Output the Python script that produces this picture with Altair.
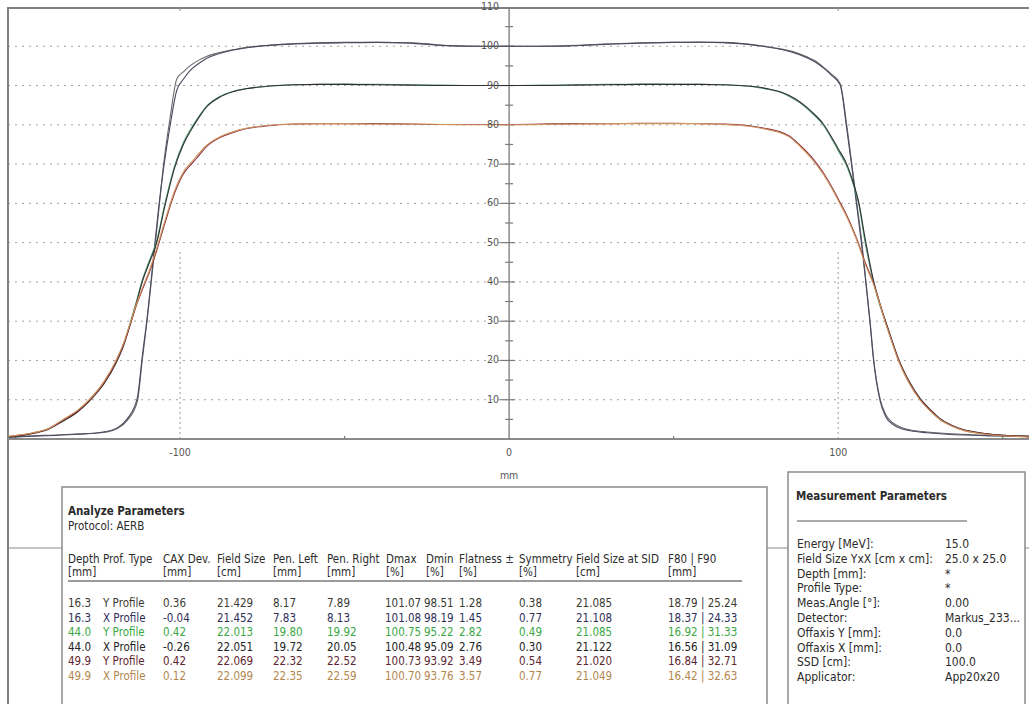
import altair as alt
import pandas as pd

# ---------------- profile data ----------------
SERIES = ["16.3 Y Profile", "16.3 X Profile", "44.0 Y Profile",
          "44.0 X Profile", "49.9 Y Profile", "49.9 X Profile"]

X_16 = [-152, -145, -138, -131, -124, -119, -116, -113, -111.5, -110, -108, -106.5,
        -105, -103, -101, -99, -97, -94, -92, -89, -86, -82, -78, -72, -65, -58, -50,
        -40, -30, -22, -15, -8, 0, 8, 15, 22, 30, 40, 50, 58, 65, 71, 76, 82, 86, 90.5,
        93, 95.5, 98, 100.6, 102.6, 104.2, 105.7, 107.2, 108.2, 109.7, 110.7, 112.8,
        114.5, 116.8, 119, 122, 127, 133, 138, 143, 150, 158]
P16_Y = [0.4, 0.8, 1.0, 1.3, 1.6, 2.7, 4.8, 9.5, 20, 30.3, 46, 58,
         70, 82, 91.7, 93.5, 95, 96.6, 97.4, 98.2, 98.8, 99.4, 99.9, 100.3, 100.7, 100.9, 101.0,
         101.0, 100.9, 100.4, 100.0, 100.0, 100.0, 100.0, 100.1, 100.3, 100.6, 100.9, 101.0, 101.0, 101.0, 100.7, 100.2, 99.4, 98.7, 97.3,
         96.3, 94.7, 92.9, 90.5, 80, 69.7, 59.8, 50, 42, 30, 21, 10,
         6.2, 4, 3, 2.3, 1.8, 1.4, 1.2, 1.0, 0.9, 0.8]
P16_X = [0.5, 0.7, 0.9, 1.2, 1.7, 2.9, 5.2, 10.5, 21, 31, 47, 59,
         69, 80, 88.8, 91.6, 93.8, 95.8, 96.9, 97.9, 98.6, 99.3, 99.8, 100.3, 100.6, 100.8, 100.9,
         101.0, 100.8, 100.3, 100.1, 100.0, 100.0, 100.0, 100.0, 100.2, 100.5, 100.8, 101.0, 101.1, 100.9, 100.6, 100.1, 99.3, 98.5, 97.1,
         96.0, 94.5, 92.6, 90.2, 79, 69, 59, 49, 41.5, 29.5, 20.5, 9.5,
         5.6, 3.6, 2.7, 2.1, 1.6, 1.2, 1.0, 0.9, 0.7, 0.6]

X_DEEP = [-152, -146, -140, -135.5, -131, -127.4, -123, -119.3, -117, -115.2, -113.3,
          -111.5, -109.3, -107.1, -104.6, -101.5, -99, -96, -94, -91.9, -88, -84, -80,
          -75, -70, -65, -58, -50, -40, -30, -20, -10, 0, 10, 20, 30, 40, 50, 58, 65, 70,
          75, 79, 82.4, 85, 88.4, 92, 95.5, 98.6, 100.1, 102.6, 104.7, 106.2, 108.2,
          110.7, 112.5, 114.3, 116.3, 118.3, 121.5, 125, 128, 131, 134.5, 138, 143,
          148.2, 153, 158]
P44_Y = [0.6, 1.3, 2.6, 4.8, 7.2, 10, 14.5, 20, 24.5, 29.5, 35,
         40.5, 45.5, 50.5, 60, 70, 75.5, 80, 82.5, 84.8, 87.2, 88.5, 89.2,
         89.7, 90.0, 90.2, 90.3, 90.4, 90.3, 90.2, 90.1, 90.0, 90.0, 90.1, 90.2, 90.3, 90.4, 90.3, 90.3, 90.2, 90.0,
         89.6, 89.0, 88.3, 87.3, 85.6, 83.0, 79.9, 75.6, 73.3, 69.5, 64.5, 60, 50,
         40, 34.5, 30, 25, 20.2, 14.5, 10, 7.3, 5, 3.4, 2.3, 1.5,
         1.0, 0.8, 0.6]
P44_X = [0.5, 1.2, 2.5, 4.6, 7.0, 9.8, 14.2, 19.6, 24.2, 29, 34.5,
         40, 45, 50, 59.4, 69.5, 75, 79.6, 82.2, 84.6, 87, 88.4, 89.2,
         89.7, 90.0, 90.2, 90.3, 90.3, 90.2, 90.1, 90.0, 90.0, 90.0, 90.0, 90.1, 90.2, 90.3, 90.3, 90.3, 90.2, 90.0,
         89.7, 89.1, 88.4, 87.5, 85.8, 83.3, 80.2, 76, 73.8, 70, 65, 60.5, 51,
         40.5, 35, 30.3, 25.3, 20.5, 14.8, 10.2, 7.5, 5.2, 3.5, 2.4, 1.6,
         1.1, 0.8, 0.6]
P49_Y = [0.6, 1.3, 2.6, 4.8, 7.2, 10, 14.5, 20, 24.5, 29, 34,
         38, 42.5, 48, 55, 63, 67.5, 70.5, 72.5, 74.5, 76.7, 78, 79,
         79.6, 80.0, 80.2, 80.3, 80.3, 80.3, 80.2, 80.1, 80.1, 80.1, 80.2, 80.3, 80.3, 80.4, 80.4, 80.3, 80.2, 80.0,
         79.5, 78.9, 78.2, 77.2, 74.8, 71.7, 67.8, 63.4, 61, 57, 53, 49.8, 45,
         39.8, 35, 30, 25, 20.2, 14.5, 10, 7.3, 5, 3.4, 2.3, 1.5,
         1.0, 0.8, 0.6]
P49_X = [0.7, 1.4, 2.7, 5.0, 7.4, 10.2, 14.8, 20.3, 24.8, 29.4, 34.3,
         38.4, 43, 48.6, 55.6, 63.6, 68, 71, 73, 74.8, 76.9, 78.2, 79.1,
         79.7, 80.1, 80.2, 80.3, 80.3, 80.2, 80.2, 80.1, 80.0, 80.0, 80.1, 80.2, 80.3, 80.3, 80.3, 80.3, 80.1, 79.9,
         79.4, 78.7, 78.0, 77.0, 74.5, 71.3, 67.4, 63, 60.6, 56.6, 52.6, 49.4, 44.6,
         39.5, 34.8, 29.8, 24.8, 20, 14.3, 9.8, 7.1, 4.9, 3.3, 2.2, 1.4,
         0.9, 0.7, 0.5]

# axis values
GRID_Y = [10, 20, 30, 40, 50, 60, 70, 80, 90, 100]
Y_LABELS = [10, 20, 30, 40, 50, 60, 70, 80, 90, 100, 110]
Y_MINOR = [5, 15, 25, 35, 45, 55, 65, 75, 85, 95, 105]
X_LABELS = [-100, 0, 100]
X_MINOR = [-150, -50, 50, 150]
X_DOTTED = [-100, 100]
X_TITLE = "mm"

# table: Analyze Parameters
ANALYZE_TITLE = "Analyze Parameters"
PROTOCOL = "Protocol: AERB"
HEAD1 = ["Depth", "Prof. Type", "CAX Dev.", "Field Size", "Pen. Left", "Pen. Right",
         "Dmax", "Dmin", "Flatness ±", "Symmetry", "Field Size at SID", "F80 | F90"]
HEAD2 = ["[mm]", "", "[mm]", "[cm]", "[mm]", "[mm]", "[%]", "[%]", "[%]", "[%]", "[cm]", "[mm]"]
DEPTH = ["16.3", "16.3", "44.0", "44.0", "49.9", "49.9"]
PROF = ["Y Profile", "X Profile", "Y Profile", "X Profile", "Y Profile", "X Profile"]
CAX = ["0.36", "-0.04", "0.42", "-0.26", "0.42", "0.12"]
FIELD = ["21.429", "21.452", "22.013", "22.051", "22.069", "22.099"]
PEN_L = ["8.17", "7.83", "19.80", "19.72", "22.32", "22.35"]
PEN_R = ["7.89", "8.13", "19.92", "20.05", "22.52", "22.59"]
DMAX = ["101.07", "101.08", "100.75", "100.48", "100.73", "100.70"]
DMIN = ["98.51", "98.19", "95.22", "95.09", "93.92", "93.76"]
FLAT = ["1.28", "1.45", "2.82", "2.76", "3.49", "3.57"]
SYM = ["0.38", "0.77", "0.49", "0.30", "0.54", "0.77"]
FS_SID = ["21.085", "21.108", "21.085", "21.122", "21.020", "21.049"]
F80_90 = ["18.79 | 25.24", "18.37 | 24.33", "16.92 | 31.33", "16.56 | 31.09",
          "16.84 | 32.71", "16.42 | 32.63"]

# table: Measurement Parameters
MEAS_TITLE = "Measurement Parameters"
M_LABELS = ["Energy [MeV]:", "Field Size YxX [cm x cm]:", "Depth [mm]:", "Profile Type:",
            "Meas.Angle [°]:", "Detector:", "Offaxis Y [mm]:", "Offaxis X [mm]:",
            "SSD [cm]:", "Applicator:"]
M_VALUES = ["15.0", "25.0 x 25.0", "*", "*", "0.00", "Markus_233...", "0.0", "0.0",
            "100.0", "App20x20"]

# ---------------- styles / layout ----------------
CURVE_COLORS = ["#686868", "#4a4a60", "#55a37a", "#303030", "#86303a", "#d0925e"]
ROW_COLORS = ["#3a3a32", "#2f2f5a", "#3aa845", "#222222", "#5e2630", "#b3864e"]
TEXT_COLOR = "#2b2b2b"
FONT = "DejaVu Sans Condensed, sans-serif"
FS = 11.5
FS_M = 12
FS_T = 11.5

W, H = 1029, 704
XDOM = [-152.3, 158.0]
YDOM = [0, 110]
XR = [8, 1029]
YR = [439, 7]
PXX = (XDOM[1] - XDOM[0]) / (XR[1] - XR[0])   # data units per pixel (x)
PXY = (YDOM[1] - YDOM[0]) / (YR[0] - YR[1])   # data units per pixel (y)

xs = alt.Scale(domain=XDOM, range=XR, nice=False, zero=False)
ys = alt.Scale(domain=YDOM, range=YR, nice=False, zero=False)

COL_HX = [68, 103, 163, 217, 273, 327, 386, 426, 459, 519, 576, 668]
COL_DX = [68, 103, 163, 217, 273, 327, 385, 424, 459, 519, 576, 668]
ROW_Y0, ROW_DY = 604, 14.6
HEAD_Y1, HEAD_Y2 = 560, 573
M_LX, M_VX, M_Y0, M_DY = 797, 945, 544, 14.8

one = pd.DataFrame({"k": [0]})


def X(f):
    return alt.X(f, type="quantitative", scale=xs, axis=None)


def Y(f):
    return alt.Y(f, type="quantitative", scale=ys, axis=None)


# ---------------- curves ----------------
rows = []
for name, xv, yv in zip(SERIES, [X_16, X_16, X_DEEP, X_DEEP, X_DEEP, X_DEEP],
                        [P16_Y, P16_X, P44_Y, P44_X, P49_Y, P49_X]):
    for i, (a, b) in enumerate(zip(xv, yv)):
        rows.append(dict(series=name, x=a, y=b, i=i))
curves = pd.DataFrame(rows)

lines = alt.Chart(curves).mark_line(strokeWidth=1.1, interpolate="monotone").encode(
    x=X("x"), y=Y("y"),
    color=alt.Color("series:N", scale=alt.Scale(domain=SERIES, range=CURVE_COLORS), legend=None),
    detail="series:N", order="i:Q")

# ---------------- frame & grid ----------------
bg_line = alt.Chart(one).mark_rule(color="#8a8a8a", strokeWidth=1).encode(
    x=alt.value(8), x2=alt.value(W), y=alt.value(548))
frame_top = alt.Chart(one).mark_rule(color="#808080", strokeWidth=2).encode(
    x=alt.value(8), x2=alt.value(W), y=alt.value(8))
frame_left = alt.Chart(one).mark_rule(color="#808080", strokeWidth=2).encode(
    x=alt.value(8), y=alt.value(7), y2=alt.value(H))

grid = alt.Chart(pd.DataFrame({"v": GRID_Y, "a": XDOM[0], "b": XDOM[1]})).mark_rule(
    color="#a0a0a0", strokeDash=[2, 5], strokeWidth=1).encode(
    y=Y("v"), x=X("a"), x2="b")
vdot = alt.Chart(pd.DataFrame({"v": X_DOTTED, "a": 0, "b": 48})).mark_rule(
    color="#9c9c9c", strokeDash=[2, 3], strokeWidth=1).encode(
    x=X("v"), y=Y("a"), y2="b")

xaxis = alt.Chart(pd.DataFrame({"a": [XDOM[0]], "b": [XDOM[1]], "v": [0]})).mark_rule(
    color="#8a8a8a", strokeWidth=2).encode(x=X("a"), x2="b", y=Y("v"))
yaxis = alt.Chart(pd.DataFrame({"v": [0], "a": [0], "b": [YDOM[1]]})).mark_rule(
    color="#7a7a7a", strokeWidth=1.3).encode(x=X("v"), y=Y("a"), y2="b")

ymaj = alt.Chart(pd.DataFrame({"v": GRID_Y, "a": -9 * PXX, "b": 6 * PXX})).mark_rule(
    color="#7a7a7a", strokeWidth=1.2).encode(y=Y("v"), x=X("a"), x2="b")
ymin = alt.Chart(pd.DataFrame({"v": Y_MINOR, "a": -4 * PXX, "b": 4 * PXX})).mark_rule(
    color="#7a7a7a", strokeWidth=1.2).encode(y=Y("v"), x=X("a"), x2="b")
xmin = alt.Chart(pd.DataFrame({"v": X_MINOR, "a": 0, "b": 3 * PXY})).mark_rule(
    color="#7a7a7a", strokeWidth=1.2).encode(x=X("v"), y=Y("a"), y2="b")
xtop = alt.Chart(pd.DataFrame({"v": X_DOTTED, "a": YDOM[1] - 4 * PXY, "b": YDOM[1]})).mark_rule(
    color="#8a8a8a", strokeWidth=1).encode(x=X("v"), y=Y("a"), y2="b")

ylab = alt.Chart(pd.DataFrame({"v": Y_LABELS, "x": 0, "t": [str(v) for v in Y_LABELS]})).mark_text(
    align="right", baseline="middle", dx=-10, font=FONT, fontSize=10.5, color="#555555").encode(
    x=X("x"), y=Y("v"), text="t:N")
xlab = alt.Chart(pd.DataFrame({"v": X_LABELS, "t": [str(v) for v in X_LABELS]})).mark_text(
    align="center", baseline="middle", font=FONT, fontSize=10.5, color="#555555").encode(
    x=X("v"), y=alt.value(453), text="t:N")
xtitle = alt.Chart(pd.DataFrame({"v": [0], "t": [X_TITLE]})).mark_text(
    align="center", baseline="middle", font=FONT, fontSize=10.5, color="#555555").encode(
    x=X("v"), y=alt.value(476), text="t:N")

# ---------------- boxes ----------------
box_a = alt.Chart(one).mark_rect(fill="white", stroke="#8c8c8c", strokeWidth=1.5).encode(
    x=alt.value(62), x2=alt.value(767), y=alt.value(487), y2=alt.value(H + 10))
box_m = alt.Chart(one).mark_rect(fill="white", stroke="#8c8c8c", strokeWidth=1.5).encode(
    x=alt.value(788), x2=alt.value(1025), y=alt.value(472), y2=alt.value(H + 10))
uline_a = alt.Chart(one).mark_rule(color="#7a7a7a", strokeWidth=1.5).encode(
    x=alt.value(68), x2=alt.value(742), y=alt.value(581))
uline_m = alt.Chart(one).mark_rule(color="#555555", strokeWidth=1).encode(
    x=alt.value(797), x2=alt.value(967), y=alt.value(521))

# ---------------- texts ----------------
trows = []
for cx, t1, t2 in zip(COL_HX, HEAD1, HEAD2):
    trows.append(dict(px=cx, py=HEAD_Y1, text=t1, color=TEXT_COLOR, s=FS))
    if t2:
        trows.append(dict(px=cx, py=HEAD_Y2, text=t2, color=TEXT_COLOR, s=FS))
trows.append(dict(px=68, py=527, text=PROTOCOL, color=TEXT_COLOR, s=FS))
cols = [DEPTH, PROF, CAX, FIELD, PEN_L, PEN_R, DMAX, DMIN, FLAT, SYM, FS_SID, F80_90]
for r in range(len(DEPTH)):
    for cx, col in zip(COL_DX, cols):
        trows.append(dict(px=cx, py=ROW_Y0 + r * ROW_DY, text=col[r], color=ROW_COLORS[r], s=FS))
for j, (lab, val) in enumerate(zip(M_LABELS, M_VALUES)):
    trows.append(dict(px=M_LX, py=M_Y0 + j * M_DY, text=lab, color=TEXT_COLOR, s=FS_M))
    trows.append(dict(px=M_VX, py=M_Y0 + j * M_DY, text=val, color=TEXT_COLOR, s=FS_M))
texts = pd.DataFrame(trows)

body = alt.Chart(texts).mark_text(align="left", baseline="middle", font=FONT).encode(
    x=alt.X("px:Q", scale=None, axis=None), y=alt.Y("py:Q", scale=None, axis=None),
    text="text:N", color=alt.Color("color:N", scale=None),
    size=alt.Size("s:Q", scale=None, legend=None))

titles = alt.Chart(pd.DataFrame({"px": [68, 796], "py": [512, 497],
                                 "text": [ANALYZE_TITLE, MEAS_TITLE]})).mark_text(
    align="left", baseline="middle", font=FONT, fontSize=FS_T, fontWeight="bold",
    color=TEXT_COLOR).encode(
    x=alt.X("px:Q", scale=None, axis=None), y=alt.Y("py:Q", scale=None, axis=None),
    text="text:N")

chart = alt.layer(
    bg_line, grid, vdot, frame_top, frame_left, xaxis, yaxis, ymaj, ymin, xmin, xtop,
    lines, ylab, xlab, xtitle, box_a, box_m, uline_a, uline_m, body, titles
).properties(
    width=W, height=H, padding=0, autosize=alt.AutoSizeParams(type="none"),
    background="white"
).configure_view(strokeWidth=0)

chart.save("out.html", embed_options={"renderer": "svg", "actions": False})
